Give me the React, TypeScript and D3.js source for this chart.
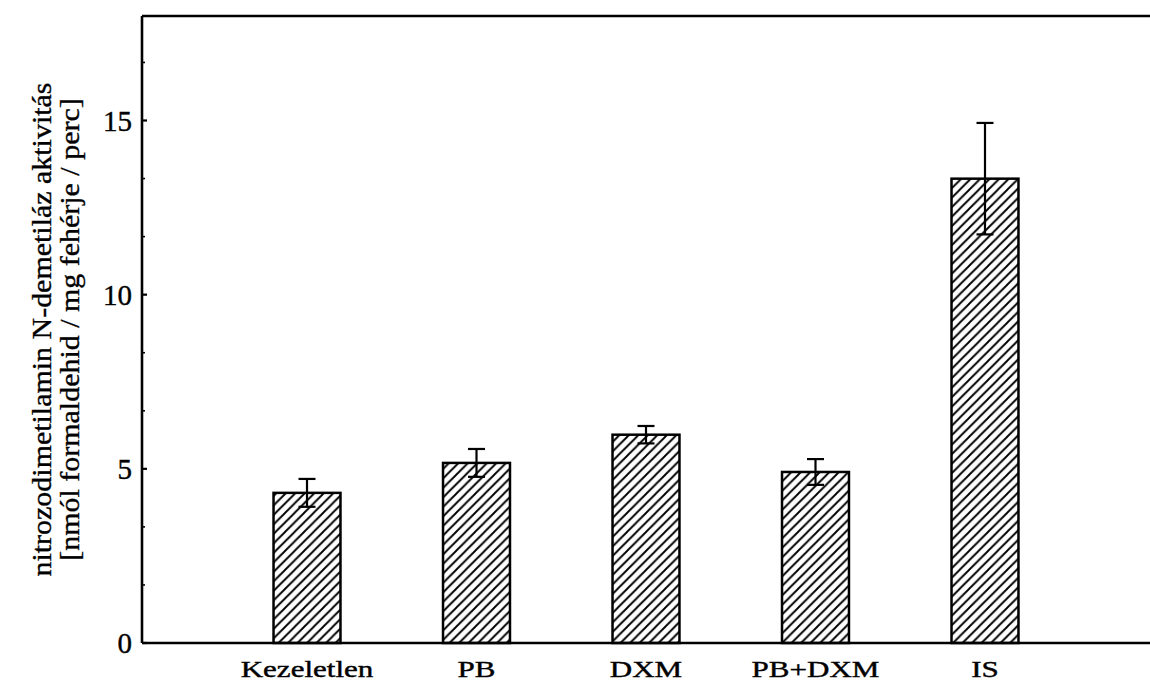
import React, { useEffect } from 'react'
import * as d3 from 'd3'

const categories = ['Kezeletlen', 'PB', 'DXM', 'PB+DXM', 'IS']
const means = [4.31, 5.17, 5.98, 4.91, 13.33]
const errors = [0.4, 0.4, 0.25, 0.37, 1.6]
const yTicks = [0, 5, 10, 15]
const yLabelLines = [
    'nitrozodimetilamin N-demetiláz aktivitás',
    '[nmól formaldehid / mg fehérje / perc]'
]

const W = 1150
const H = 685
const margin = { top: 16, right: 0, bottom: 42, left: 142 }
const font = 'Liberation Serif, Times, serif'

const App = () => {
    useEffect(() => {
        document.body.style.margin = '0'
    }, [])

    const x = d3.scaleBand<string>()
        .domain(categories)
        .range([margin.left, W - margin.right])
        .paddingInner(0.605)
        .paddingOuter(0.776)

    const y = d3.scaleLinear()
        .domain([0, 18])
        .range([H - margin.bottom, margin.top])

    // minor ticks every 5/3 units
    const minorTicks = d3.range(0, 18.01, 5 / 3).filter(v => !yTicks.some(t => Math.abs(t - v) < 0.01))

    const x0 = margin.left
    const y0 = y(0)
    const capHalf = 8.5
    const midY = (y(0) + y(18)) / 2

    const textStyle = { fontFamily: font }

    return (
        <svg width={W} height={H} style={{ display: 'block', background: '#fff' }}>
            <defs>
                <pattern id="hatch" patternUnits="userSpaceOnUse" width={9.5} height={9.5}>
                    <path d="M0,9.5 L9.5,0 M-2,2 L2,-2 M7.5,11.5 L11.5,7.5" stroke="#000" strokeWidth={1.9} />
                </pattern>
            </defs>

            {/* bars */}
            {categories.map((c, i) => (
                <rect key={c}
                    x={x(c)}
                    y={y(means[i])}
                    width={x.bandwidth()}
                    height={y0 - y(means[i])}
                    fill="url(#hatch)"
                    stroke="#000"
                    strokeWidth={2.5} />
            ))}

            {/* error bars */}
            {categories.map((c, i) => {
                const cx = (x(c) as number) + x.bandwidth() / 2
                const hi = y(means[i] + errors[i])
                const lo = y(means[i] - errors[i])
                return (
                    <g key={c} stroke="#000" strokeWidth={2.2}>
                        <line x1={cx} x2={cx} y1={hi} y2={lo} />
                        <line x1={cx - capHalf} x2={cx + capHalf} y1={hi} y2={hi} />
                        <line x1={cx - capHalf} x2={cx + capHalf} y1={lo} y2={lo} />
                    </g>
                )
            })}

            {/* frame: left, top, bottom */}
            <g stroke="#000" strokeWidth={2.6}>
                <line x1={x0} x2={x0} y1={y(18)} y2={y0} />
                <line x1={x0} x2={W} y1={y(18)} y2={y(18)} />
                <line x1={x0} x2={W} y1={y0} y2={y0} />
            </g>

            {/* y ticks */}
            {yTicks.map(t => (
                <g key={t}>
                    <line x1={x0} x2={x0 + 5} y1={y(t)} y2={y(t)} stroke="#000" strokeWidth={2.2} />
                    <text x={132} y={y(t)} dy="0.36em" textAnchor="end"
                        style={textStyle} fontSize={29} fill="#000"
                        stroke="#000" strokeWidth={0.4}>{t}</text>
                </g>
            ))}
            {minorTicks.map(t => (
                <line key={t} x1={x0} x2={x0 + 3} y1={y(t)} y2={y(t)} stroke="#000" strokeWidth={1.6} />
            ))}

            {/* category labels */}
            {categories.map(c => {
                const cx = (x(c) as number) + x.bandwidth() / 2
                return (
                    <text key={c} transform={`translate(${cx},677) scale(1.35,1)`}
                        textAnchor="middle" style={textStyle} fontSize={23} fill="#000"
                        stroke="#000" strokeWidth={0.4}>{c}</text>
                )
            })}

            {/* y axis label */}
            {yLabelLines.map((line, i) => (
                <text key={i}
                    transform={`translate(${51 + i * 28},${midY}) rotate(-90) scale(1.07,1)`}
                    textAnchor="middle" style={textStyle} fontSize={28} fill="#000"
                    stroke="#000" strokeWidth={0.35}>{line}</text>
            ))}
        </svg>
    )
}

export default App
